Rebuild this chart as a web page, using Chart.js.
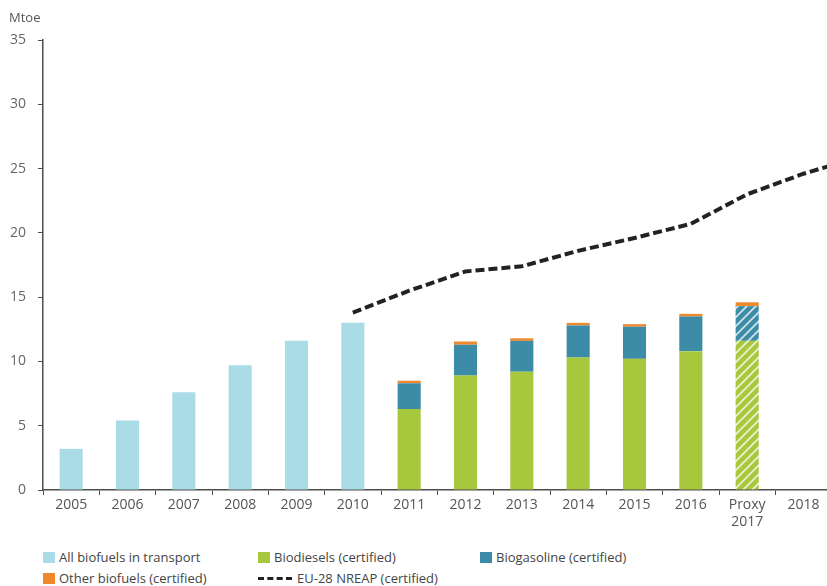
<!DOCTYPE html>
<html>
<head>
<meta charset="utf-8">
<script src="https://cdn.jsdelivr.net/npm/chart.js@4.4.1/dist/chart.umd.min.js"></script>
<style>
  html, body { margin: 0; padding: 0; background: #fff; }
  body { width: 827px; height: 586px; overflow: hidden; position: relative; font-family: "Open Sans", sans-serif; }
  #wrap { position: absolute; left: 0; top: 0; width: 827px; height: 530px; overflow: hidden; }
  #unit { position: absolute; left: 9px; top: 8px; font-size: 13px; color: #555; }
  .key { position: absolute; font-size: 13px; color: #444; white-space: nowrap; line-height: 14px; }
  .sw { display: inline-block; width: 12px; height: 11px; vertical-align: -1px; margin-right: 4px; }
  .dash { display: inline-block; width: 34px; height: 0; border-top: 3.5px dashed #222; vertical-align: 3px; margin-right: 5px; }
</style>
</head>
<body>
<div id="wrap"><canvas id="biofuelChart" width="888" height="530"></canvas></div>
<div id="unit">Mtoe</div>
<div class="key" style="left:43px; top:550px;"><span class="sw" style="background:#a9dce7"></span>All biofuels in transport</div>
<div class="key" style="left:258px; top:550px;"><span class="sw" style="background:#a7c73c"></span>Biodiesels (certified)</div>
<div class="key" style="left:480px; top:550px;"><span class="sw" style="background:#3c8ba7"></span>Biogasoline (certified)</div>
<div class="key" style="left:43px; top:571px;"><span class="sw" style="background:#f0882c"></span>Other biofuels (certified)</div>
<div class="key" style="left:258px; top:571px;"><span class="dash"></span>EU-28 NREAP (certified)</div>
<script>
"use strict";

// 2019 sits just past the visible edge so the target line runs off the frame
const years = ["2005", "2006", "2007", "2008", "2009", "2010", "2011", "2012",
  "2013", "2014", "2015", "2016", ["Proxy", "2017"], "2018", "2019"];
const allBiofuels = [3.2, 5.4, 7.6, 9.7, 11.6, 13.0, null, null, null, null, null, null, null, null, null];
const biodiesels = [null, null, null, null, null, null, 6.3, 8.9, 9.2, 10.3, 10.2, 10.8, 11.6, null, null];
const biogasoline = [null, null, null, null, null, null, 2.0, 2.4, 2.4, 2.5, 2.5, 2.7, 2.7, null, null];
const otherBiofuels = [null, null, null, null, null, null, 0.2, 0.25, 0.2, 0.2, 0.2, 0.2, 0.3, null, null];
const nreapTarget = [null, null, null, null, null, 13.8, 15.5, 17.0, 17.4, 18.6, 19.6, 20.7, 23.0, 24.6, 25.9];
const proxyIndex = 12;

function hatch(base) {
  const c = document.createElement("canvas");
  c.width = 9;
  c.height = 9;
  const g = c.getContext("2d");
  g.fillStyle = base;
  g.fillRect(0, 0, 9, 9);
  g.strokeStyle = "rgba(255,255,255,0.75)";
  g.lineWidth = 1.8;
  g.beginPath();
  g.moveTo(-1, 10); g.lineTo(10, -1);
  g.moveTo(-5.5, 5.5); g.lineTo(5.5, -5.5);
  g.moveTo(3.5, 14.5); g.lineTo(14.5, 3.5);
  g.stroke();
  const ctx = document.getElementById("biofuelChart").getContext("2d");
  return ctx.createPattern(c, "repeat");
}

function colours(base) {
  const pat = hatch(base);
  return years.map((y, i) => (i === proxyIndex ? pat : base));
}

const axisColour = "#4d4d4d";
const tickFont = { family: "Open Sans", size: 14 };

new Chart(document.getElementById("biofuelChart"), {
  type: "bar",
  data: {
    labels: years,
    datasets: [
      {
        type: "line",
        label: "EU-28 NREAP (certified)",
        data: nreapTarget,
        borderColor: "#222",
        borderWidth: 4,
        borderDash: [9, 4],
        pointRadius: 0,
        tension: 0,
        fill: false,
        stack: "nreap",
        order: 0
      },
      {
        label: "All biofuels in transport",
        data: allBiofuels,
        backgroundColor: "#a9dce7",
        stack: "bio",
        order: 1
      },
      {
        label: "Biodiesels (certified)",
        data: biodiesels,
        backgroundColor: colours("#a7c73c"),
        stack: "bio",
        order: 1
      },
      {
        label: "Biogasoline (certified)",
        data: biogasoline,
        backgroundColor: colours("#3c8ba7"),
        stack: "bio",
        order: 1
      },
      {
        label: "Other biofuels (certified)",
        data: otherBiofuels,
        backgroundColor: "#f0882c",
        stack: "bio",
        order: 1
      }
    ]
  },
  options: {
    responsive: false,
    animation: false,
    layout: { padding: { top: 40, right: 0, bottom: 0, left: 0 } },
    datasets: { bar: { barPercentage: 0.41, categoryPercentage: 1 } },
    plugins: {
      legend: { display: false },
      tooltip: { enabled: false }
    },
    scales: {
      x: {
        stacked: true,
        offset: true,
        afterFit: scale => { scale.height = 40; },
        border: { display: true, color: axisColour, width: 1.5 },
        grid: { drawOnChartArea: false, drawTicks: true, tickLength: 5, color: axisColour, offset: true },
        ticks: { color: "#555", font: tickFont, padding: 2, maxRotation: 0, autoSkip: false }
      },
      y: {
        stacked: true,
        min: 0,
        max: 35,
        afterFit: scale => { scale.width = 43; },
        border: { display: true, color: axisColour, width: 1.5 },
        grid: { drawOnChartArea: false, drawTicks: true, tickLength: 5, color: axisColour },
        ticks: { stepSize: 5, color: "#666", font: tickFont, padding: 12 }
      }
    }
  }
});
</script>
</body>
</html>
